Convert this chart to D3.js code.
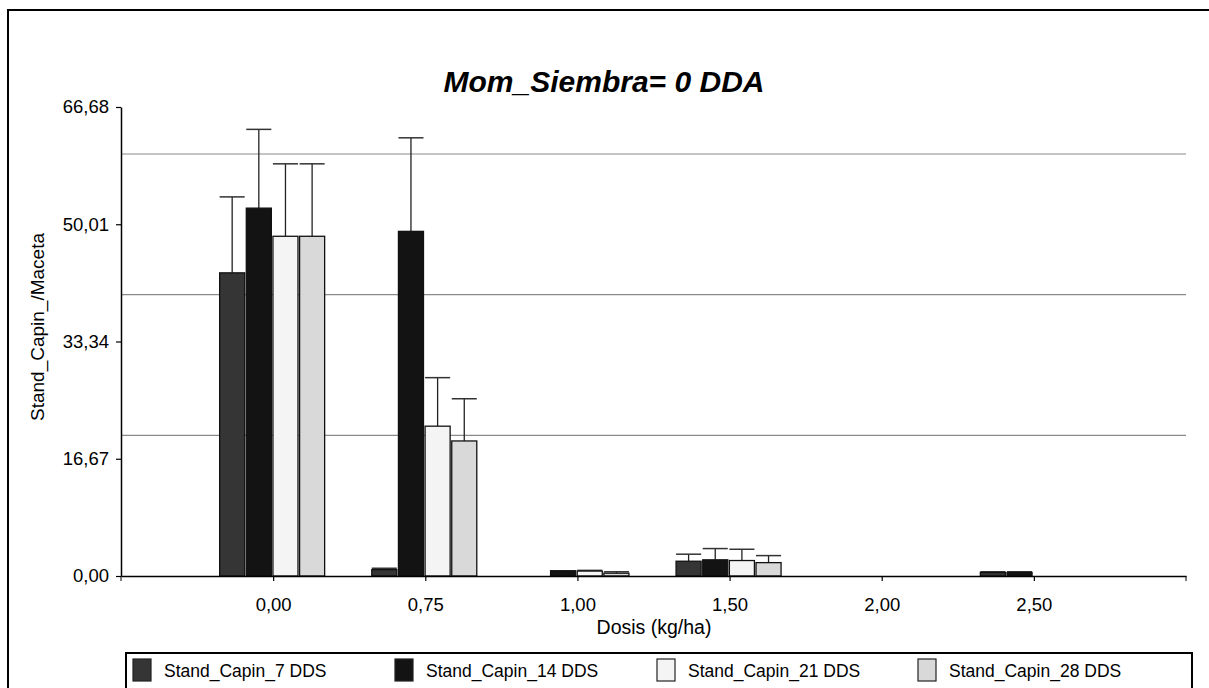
<!DOCTYPE html>
<html><head><meta charset="utf-8">
<script src="https://cdn.jsdelivr.net/npm/d3@7"></script>
<style>html,body{margin:0;padding:0;background:#fff;} svg{display:block;}</style>
</head><body>
<script>
const categories = ["0,00","0,75","1,00","1,50","2,00","2,50"];
const seriesNames = ["Stand_Capin_7 DDS","Stand_Capin_14 DDS","Stand_Capin_21 DDS","Stand_Capin_28 DDS"];
const s7    = [43.1, 0.9, 0,    2.1, 0, 0.5];
const s7sd  = [10.8, 0.2, 0,    1.0, 0, 0.1];
const s14   = [52.3, 49.0, 0.75, 2.3, 0, 0.5];
const s14sd = [11.2, 13.3, 0,    1.6, 0, 0.1];
const s21   = [48.3, 21.3, 0.7, 2.2, 0, 0];
const s21sd = [10.3, 6.9, 0.1,  1.6, 0, 0];
const s28   = [48.3, 19.2, 0.4, 1.9, 0, 0];
const s28sd = [10.3, 6.0, 0.2,  1.0, 0, 0];
const yTicks = [0, 16.67, 33.34, 50.01, 66.68];
const gridVals = [20, 40, 60];
const fills = ["#353535","#131313","#f4f4f4","#d9d9d9"];

const values = [s7, s14, s21, s28];
const sds = [s7sd, s14sd, s21sd, s28sd];

const W = 1209, H = 688;
const svg = d3.select("body").append("svg").attr("width", W).attr("height", H);
const font = "'Liberation Sans', Arial, sans-serif";

// outer frame
svg.append("rect").attr("x", 8).attr("y", 10).attr("width", W + 20).attr("height", H + 20)
  .attr("fill", "none").attr("stroke", "#000").attr("stroke-width", 2);

const x = d3.scalePoint().domain(categories).range([121, 1186]).padding(1);
const y = d3.scaleLinear().domain([0, 66.68]).range([576, 107]);
const xs = d3.scaleBand().domain(d3.range(4)).range([-53.5, 51.5]).paddingInner(0.06);

// grid
svg.append("g").selectAll("line").data(gridVals).join("line")
  .attr("x1", 121).attr("x2", 1186).attr("y1", d => y(d)).attr("y2", d => y(d))
  .attr("stroke", "#8a8a8a").attr("stroke-width", 1.2);

// bars
const bars = [];
values.forEach((arr, si) => arr.forEach((v, ci) => bars.push({si, ci, v, sd: sds[si][ci]})));
const g = svg.append("g");
const eb = bars.filter(d => d.v > 0 && d.sd > 0);
g.selectAll("line.ev").data(eb).join("line").attr("class","ev")
  .attr("x1", d => x(categories[d.ci]) + xs(d.si) + xs.bandwidth()/2)
  .attr("x2", d => x(categories[d.ci]) + xs(d.si) + xs.bandwidth()/2)
  .attr("y1", d => y(d.v)).attr("y2", d => y(d.v + d.sd))
  .attr("stroke", "#222").attr("stroke-width", 1.3);
g.selectAll("line.ec").data(eb).join("line").attr("class","ec")
  .attr("x1", d => x(categories[d.ci]) + xs(d.si))
  .attr("x2", d => x(categories[d.ci]) + xs(d.si) + xs.bandwidth())
  .attr("y1", d => y(d.v + d.sd)).attr("y2", d => y(d.v + d.sd))
  .attr("stroke", "#333").attr("stroke-width", 1.5);
g.selectAll("rect").data(bars.filter(d => d.v > 0)).join("rect")
  .attr("x", d => x(categories[d.ci]) + xs(d.si))
  .attr("width", xs.bandwidth())
  .attr("y", d => y(d.v)).attr("height", d => y(0) - y(d.v))
  .attr("fill", d => fills[d.si]).attr("stroke", "#111").attr("stroke-width", 1.3);

// axes
const yAxis = d3.axisLeft(y).tickValues(yTicks).tickSize(5).tickSizeOuter(0)
  .tickFormat(d => d3.format(".2f")(d).replace(".", ","));
const ya = svg.append("g").attr("transform", "translate(121,0)").call(yAxis);
const xAxis = d3.axisBottom(x).tickSize(5).tickSizeOuter(0);
const xa = svg.append("g").attr("transform", "translate(0,576)").call(xAxis);
xa.append("line").attr("x1", 1186).attr("x2", 1186).attr("y1", 0).attr("y2", 5).attr("stroke", "#000");
xa.append("line").attr("x1", 121).attr("x2", 121).attr("y1", 0).attr("y2", 5).attr("stroke", "#000");
[ya, xa].forEach(a => {
  a.select(".domain").attr("stroke", "#000").attr("stroke-width", 1.5);
  a.selectAll(".tick line").attr("stroke", "#000").attr("stroke-width", 1.2);
  a.selectAll("text").attr("font-family", font).attr("font-size", 18.5).attr("fill", "#000");
});
ya.selectAll("text").attr("dx", "-4");
xa.selectAll(".tick text").attr("dy", "1.45em");

// titles
svg.append("text").attr("x", 604).attr("y", 92).attr("text-anchor", "middle")
  .attr("font-family", font).attr("font-size", 30).attr("font-weight", "bold").attr("font-style", "italic")
  .text("Mom_Siembra= 0 DDA");
svg.append("text").attr("transform", "translate(44,327) rotate(-90)").attr("text-anchor", "middle")
  .attr("font-family", font).attr("font-size", 19).text("Stand_Capin_/Maceta");
svg.append("text").attr("x", 654).attr("y", 634).attr("text-anchor", "middle")
  .attr("font-family", font).attr("font-size", 19.5).text("Dosis (kg/ha)");

// legend
svg.append("rect").attr("x", 126).attr("y", 653).attr("width", 1066).attr("height", 50)
  .attr("fill", "#fff").attr("stroke", "#000").attr("stroke-width", 2);
const legX = [133, 395, 657, 918];
const lg = svg.append("g").selectAll("g").data(seriesNames).join("g")
  .attr("transform", (d, i) => `translate(${legX[i]},659)`);
lg.append("rect").attr("width", 18).attr("height", 22).attr("fill", (d, i) => fills[i])
  .attr("stroke", "#222").attr("stroke-width", 1.2);
lg.append("text").attr("x", 31).attr("y", 17.5).attr("font-family", font).attr("font-size", 17.5).text(d => d);
</script>
</body></html>
